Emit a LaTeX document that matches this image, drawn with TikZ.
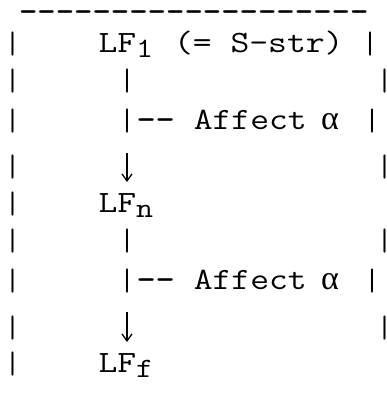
\documentclass[tikz,border=0pt]{standalone}
\usepackage{fontspec}
\usepackage{graphicx}
\usetikzlibrary{arrows.meta}
\newfontfamily\grk{Liberation Serif}
\newcommand{\cw}[1]{\scalebox{1.18}[1]{#1}}
\newcommand{\dw}[1]{\scalebox{1.13}[1]{#1}}
\newcommand{\subsc}[1]{\lower5pt\hbox{\fontsize{28}{28}\selectfont #1}}
\tikzset{
  txt/.style={inner sep=0pt, outer sep=0pt, anchor=base west, font=\ttfamily\fontsize{31}{31}\selectfont},
  bar/.style={inner sep=0pt, outer sep=0pt, anchor=center, font=\ttfamily\fontsize{31}{31}\selectfont},
  alpha/.style={inner sep=0pt, outer sep=0pt, anchor=base west, font=\grk\fontsize{34}{34}\selectfont},
  arr/.style={line width=1.3pt, -{Straight Barb[length=7pt,width=10pt]}}
}
\begin{document}
\begin{tikzpicture}[x=1pt,y=-1pt]
\useasboundingbox[fill=white] (0,0) rectangle (387,398);
% row 1
\node[txt] (dash) at (19,22) {\dw{\bfseries -------------------}};
% row 2
\node[bar] (l2) at (12.7,44.5) {|};
\node[txt] (lf1) at (98.5,53) {\cw{LF\subsc{1}}};
\node[txt] (seq) at (174,53) {\cw{(= S-str)}};
\node[bar] (r2) at (370,44.5) {|};
% row 3
\node[bar] (l3) at (12.7,81) {|};
\node[bar] (c3) at (127,81) {|};
\node[bar] (r3) at (384.5,81) {|};
% row 4
\node[bar] (l4) at (12.7,121) {|};
\node[bar] (c4) at (127,121) {|};
\node[txt] (aff1) at (136.5,129.5) {\cw{{\bfseries --} Affect}};
\node[alpha] (al1) at (321,129.5) {α};
\node[bar] (r4) at (372,121) {|};
% row 5
\node[bar] (l5) at (12.7,167) {|};
\coordinate (a1s) at (127,153);
\coordinate (a1e) at (127,182);
\draw[arr] (a1s) -- (a1e);
\node[bar] (r5) at (384.5,167) {|};
% row 6
\node[bar] (l6) at (12.7,204) {|};
\node[txt] (lfn) at (98.5,212.5) {\cw{LF\subsc{n}}};
% row 7
\node[bar] (l7) at (12.7,241) {|};
\node[bar] (c7) at (127,241) {|};
\node[bar] (r7) at (384.5,241) {|};
% row 8
\node[bar] (l8) at (12.7,281) {|};
\node[bar] (c8) at (127,281) {|};
\node[txt] (aff2) at (136.5,289.5) {\cw{{\bfseries --} Affect}};
\node[alpha] (al2) at (321,289.5) {α};
\node[bar] (r8) at (372,281) {|};
% row 9
\node[bar] (l9) at (12.7,328) {|};
\coordinate (a2s) at (127,312);
\coordinate (a2e) at (127,342);
\draw[arr] (a2s) -- (a2e);
\node[bar] (r9) at (384.5,328) {|};
% row 10
\node[bar] (l10) at (12.7,364) {|};
\node[txt] (lff) at (98.5,372.5) {\cw{LF\subsc{f}}};
\end{tikzpicture}
\end{document}
